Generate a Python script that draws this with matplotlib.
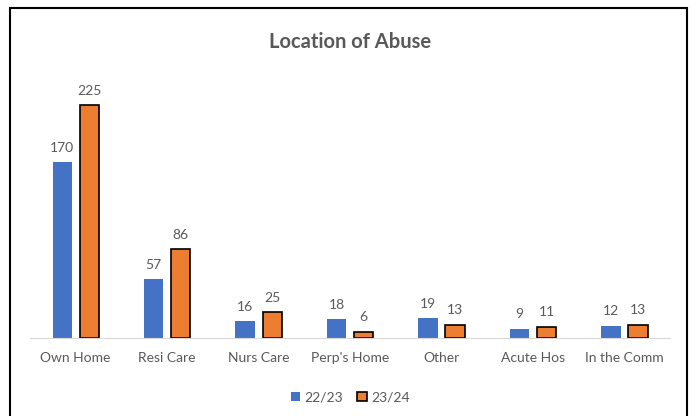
import numpy as np
import matplotlib.pyplot as plt
from matplotlib.patches import Rectangle

categories = ["Own Home", "Resi Care", "Nurs Care", "Perp's Home", "Other", "Acute Hos", "In the Comm"]
vals_2223 = [170, 57, 16, 18, 19, 9, 12]
vals_2324 = [225, 86, 25, 6, 13, 11, 13]

blue = "#4472C4"
orange = "#ED7D31"
grey = "#595959"

plt.rcParams['font.family'] = ['Lato', 'DejaVu Sans']

fig = plt.figure(figsize=(6.96, 4.16), dpi=100)
ax = fig.add_axes([0.043, 0.1875, 0.92, 0.6225])

x = np.arange(len(categories))
w = 0.21
off = 0.148
b1 = ax.bar(x - off, vals_2223, w, color=blue, label="22/23")
b2 = ax.bar(x + off, vals_2324, w, color=orange, edgecolor="black", linewidth=1.2, label="23/24")

for bars in (b1, b2):
    for r in bars:
        ax.text(r.get_x() + r.get_width() / 2, r.get_height() + 8, str(int(r.get_height())),
                ha="center", va="bottom", fontsize=10, color=grey)

ax.set_xlim(-0.5, len(categories) - 0.5)
ax.set_ylim(0, 250)
ax.set_yticks([])
for s in ["top", "right", "left"]:
    ax.spines[s].set_visible(False)
ax.spines["bottom"].set_color("#D9D9D9")
ax.set_xticks(x)
ax.set_xticklabels(categories, fontsize=10, color=grey)
ax.tick_params(axis="x", length=0, pad=10)

fig.text(0.503, 0.9, "Location of Abuse", ha="center", va="center",
         fontsize=14.5, fontweight="bold", color=grey)

fig.legend(loc="center", bbox_to_anchor=(0.503, 0.045), ncol=2, frameon=False,
           fontsize=10, labelcolor=grey, handlelength=0.7, handleheight=0.7,
           handletextpad=0.3, columnspacing=1.0)

fig.patches.append(Rectangle((0.015, -0.1), 0.972, 1.08, transform=fig.transFigure,
                             fill=False, edgecolor="black", linewidth=1.5))

fig.savefig("out.png", dpi=100)
